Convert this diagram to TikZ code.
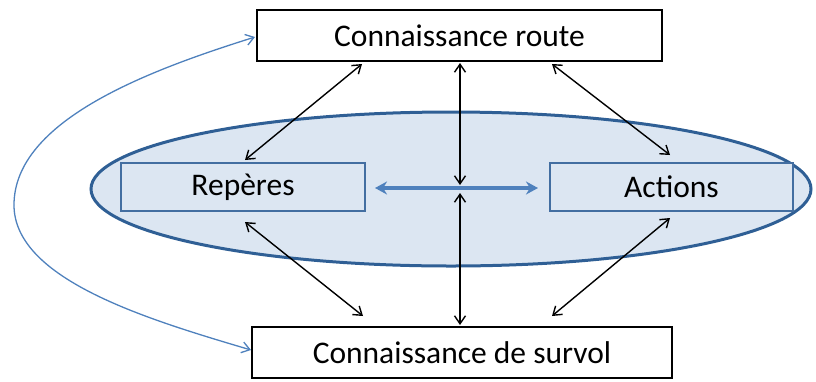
\documentclass[tikz,border=0pt]{standalone}
\usepackage{fontspec}
\setmainfont{Carlito}
\usetikzlibrary{arrows.meta,shapes.geometric}
\definecolor{efill}{HTML}{DCE6F2}
\definecolor{eline}{HTML}{2F5F95}
\definecolor{bline}{HTML}{4F81BD}
\begin{document}
\begin{tikzpicture}[x=1pt,y=-1pt,
  wbox/.style={draw=black,fill=white,line width=1.8pt,inner sep=0pt,font=\fontsize{31.5}{36}\selectfont},
  ibox/.style={draw=bline!85!black,fill=efill,line width=1.6pt,inner sep=0pt,font=\fontsize{31.5}{36}\selectfont},
  blk/.style={{Straight Barb[length=8pt,width=11pt]}-{Straight Barb[length=8pt,width=11pt]},line width=1.4pt,black},
  thick2/.style={{Stealth[length=12pt,width=13pt]}-{Stealth[length=12pt,width=13pt]},line width=4pt,bline},
  curv/.style={-{Straight Barb[length=8pt,width=11pt]},line width=1.3pt,bline}]
\useasboundingbox (0,0) rectangle (816,381);
\node[ellipse,draw=eline,fill=efill,line width=3pt,minimum width=720pt,minimum height=154pt,inner sep=0pt] (ell) at (451,189) {};
\node[wbox,minimum width=405pt,minimum height=51pt] (top) at (459.5,35.5) {Connaissance route};
\node[wbox,minimum width=420pt,minimum height=51pt] (bot) at (462,352.5) {Connaissance de survol};
\node[ibox,minimum width=244pt,minimum height=48pt] (rep) at (243,187) {Repères};
\node[ibox,minimum width=243pt,minimum height=48pt] (act) at (671.5,187) {Actions};
\coordinate (c) at (460,189);
\coordinate (ctop) at (460,185);
\coordinate (cbot) at (460,193);
\draw[blk] (245,160) -- (362,64);
\draw[blk] (552,64) -- (670,155);
\draw[blk] (245,222) -- (363,316);
\draw[blk] (670,218) -- (552,316);
\draw[blk] (460,63) -- (ctop);
\draw[blk] (cbot) -- (460,325);
\draw[thick2] (375,188) -- (538,188);
\draw[curv] (14,205) .. controls (14,120) and (150,70) .. (255,37);
\draw[curv] (14,205) .. controls (14,280) and (150,320) .. (251,350);
\end{tikzpicture}
\end{document}
